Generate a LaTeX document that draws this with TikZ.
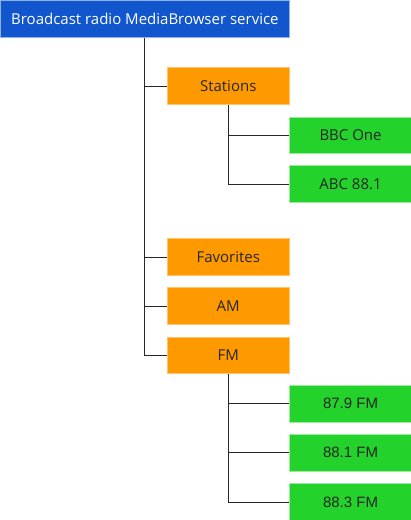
\documentclass[tikz,border=0pt]{standalone}
\usepackage{fontspec}
\setmainfont{Open Sans}
\newfontfamily\numfont{Liberation Sans}
\definecolor{topblue}{HTML}{1156CC}
\definecolor{topblueb}{HTML}{8FB1EA}
\definecolor{boxorange}{HTML}{FF9900}
\definecolor{boxorangeb}{HTML}{FFC46B}
\definecolor{boxgreen}{HTML}{23D32B}
\definecolor{boxgreenb}{HTML}{9BEA9E}
\tikzset{
  base/.style={anchor=north west, minimum width=122.3pt, minimum height=36.7pt, inner sep=0pt, font=\fontsize{15pt}{18pt}\selectfont, line width=0.8pt},
  topbox/.style={base, fill=topblue, draw=topblueb, text=white, minimum width=289pt},
  midbox/.style={base, fill=boxorange, draw=boxorangeb, text=black!85},
  leafbox/.style={base, fill=boxgreen, draw=boxgreenb, text=black!85},
  conn/.style={draw=black!85, line width=1.1pt}
}
\begin{document}
\begin{tikzpicture}[x=1pt,y=-1pt]
\useasboundingbox (0,0) rectangle (411,520);
\node[topbox] (root) at (0,0) {Broadcast radio MediaBrowser service};
\node[midbox] (stations) at (166.7,67.3) {Stations};
\node[leafbox] (bbc) at (289,116.5) {BBC One};
\node[leafbox] (abc) at (289,165.3) {ABC 88.1};
\node[midbox] (fav) at (166.7,238.3) {Favorites};
\node[midbox] (am) at (166.7,287.3) {AM};
\node[midbox] (fm) at (166.7,336.5) {FM};
\node[leafbox] (f879) at (289,385) {\numfont 87.9 FM};
\node[leafbox] (f881) at (289,434) {\numfont 88.1 FM};
\node[leafbox] (f883) at (289,483.3) {\numfont 88.3 FM};
\coordinate (rootx) at (144.3,0);
\coordinate (stx) at (228.3,0);
\draw[conn] (rootx |- root.south) -- (rootx |- fm.west) -- (fm.west);
\draw[conn] (rootx |- stations.west) -- (stations.west);
\draw[conn] (rootx |- fav.west) -- (fav.west);
\draw[conn] (rootx |- am.west) -- (am.west);
\draw[conn] (stx |- stations.south) -- (stx |- abc.west) -- (abc.west);
\draw[conn] (stx |- bbc.west) -- (bbc.west);
\draw[conn] (stx |- fm.south) -- (stx |- f883.west) -- (f883.west);
\draw[conn] (stx |- f879.west) -- (f879.west);
\draw[conn] (stx |- f881.west) -- (f881.west);
\end{tikzpicture}
\end{document}
